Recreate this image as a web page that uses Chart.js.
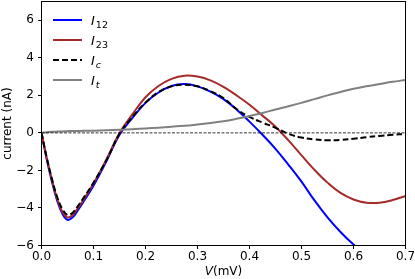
<!DOCTYPE html>
<html>
<head>
<meta charset="utf-8">
<script src="https://cdn.jsdelivr.net/npm/chart.js@4"></script>
<style>
html,body{margin:0;padding:0;background:#fff;}
#wrap{position:relative;width:415px;height:279px;}
</style>
</head>
<body>
<div id="wrap"><canvas id="c" width="415" height="279"></canvas></div>
<script>
// ---- data ----
const V = [0,0.01,0.02,0.03,0.04,0.05,0.06,0.07,0.08,0.1,0.125,0.15,0.175,0.2,0.225,0.25,0.275,0.3,0.325,0.35,0.375,0.4,0.425,0.45,0.475,0.5,0.525,0.55,0.575,0.6,0.625,0.65,0.675,0.7];
const I12 = [0,-1.4,-2.6,-3.6,-4.3,-4.63,-4.5,-4.12,-3.7,-2.82,-1.5,-0.1,0.8,1.6,2.15,2.5,2.6,2.48,2.2,1.8,1.25,0.6,-0.1,-0.85,-1.7,-2.6,-3.6,-4.5,-5.28,-5.95,-6.5,null,null,null];
const I23 = [0,-1.35,-2.5,-3.5,-4.2,-4.5,-4.38,-4.0,-3.6,-2.7,-1.4,0.0,1.0,1.9,2.5,2.88,3.05,3.0,2.8,2.45,2.0,1.5,0.92,0.33,-0.4,-1.2,-1.97,-2.65,-3.2,-3.55,-3.72,-3.72,-3.58,-3.36];
const Ic  = [0,-1.3,-2.45,-3.4,-4.05,-4.37,-4.25,-3.9,-3.5,-2.65,-1.45,-0.05,0.85,1.62,2.17,2.48,2.57,2.48,2.22,1.85,1.27,0.85,0.55,0.27,-0.05,-0.25,-0.35,-0.39,-0.37,-0.31,-0.23,-0.16,-0.1,-0.06];
const It  = [0,0.04,0.06,0.07,0.08,0.09,0.1,0.1,0.11,0.12,0.14,0.17,0.2,0.24,0.28,0.33,0.38,0.45,0.53,0.62,0.75,0.9,1.06,1.25,1.42,1.6,1.8,2.0,2.18,2.35,2.48,2.6,2.72,2.82];
const xTicks = [0,0.1,0.2,0.3,0.4,0.5,0.6,0.7];
const yTicks = [-6,-4,-2,0,2,4,6];
const legendItems = [
  {sub:'12', italicSub:false, color:'#0000ff', dash:[]},
  {sub:'23', italicSub:false, color:'#a52a2a', dash:[]},
  {sub:'c', italicSub:true, color:'#000000', dash:[6,3]},
  {sub:'t', italicSub:true, color:'#808080', dash:[]}
];

const pts = ys => V.map((v,i)=>({x:v,y:ys[i]})).filter(p=>p.y!==null);
const FONT = '"DejaVu Sans", sans-serif';
const fmtMinus = n => (n<0 ? '\u2212'+Math.abs(n) : String(n));

const decor = {
  id:'decor',
  afterDraw(chart){
    const ctx = chart.ctx, a = chart.chartArea;
    ctx.save();
    ctx.strokeStyle='#000'; ctx.lineWidth=1; ctx.setLineDash([]);
    ctx.strokeRect(a.left, a.top, a.right-a.left, a.bottom-a.top);
    let y0 = 20;
    legendItems.forEach((it,k)=>{
      const y = y0 + k*20;
      ctx.beginPath();
      ctx.strokeStyle=it.color; ctx.lineWidth=2; ctx.setLineDash(it.dash);
      ctx.moveTo(53,y); ctx.lineTo(82,y); ctx.stroke();
      ctx.setLineDash([]);
      ctx.fillStyle='#000';
      ctx.textBaseline='alphabetic'; ctx.textAlign='left';
      ctx.font='italic 13px '+FONT;
      ctx.fillText('I',91,y+5);
      const w = ctx.measureText('I').width;
      ctx.font=(it.italicSub?'italic ':'')+'9.5px '+FONT;
      ctx.fillText(it.sub,91+w+1,y+8);
    });
    ctx.font='italic 12px '+FONT;
    const wV = ctx.measureText('V').width;
    ctx.font='12px '+FONT;
    const wR = ctx.measureText('(mV)').width;
    const cx = (a.left+a.right)/2;
    const sx = cx-(wV+wR)/2;
    ctx.fillStyle='#000'; ctx.textAlign='left'; ctx.textBaseline='alphabetic';
    ctx.font='italic 12px '+FONT; ctx.fillText('V',sx,275);
    ctx.font='12px '+FONT; ctx.fillText('(mV)',sx+wV,275);
    ctx.translate(11,(a.top+a.bottom)/2);
    ctx.rotate(-Math.PI/2);
    ctx.textAlign='center'; ctx.textBaseline='alphabetic';
    ctx.fillText('current (nA)',0,0);
    ctx.restore();
  }
};

const lineOpts = {pointRadius:0, tension:0.4, cubicInterpolationMode:'default'};

new Chart(document.getElementById('c'),{
  type:'line',
  data:{datasets:[
    {data:[{x:0,y:0},{x:0.7,y:0}], borderColor:'#000', borderWidth:0.8, borderDash:[3,1.5], pointRadius:0, tension:0, order:0},
    Object.assign({data:pts(It), borderColor:'#808080', borderWidth:2, order:1}, lineOpts),
    Object.assign({data:pts(Ic), borderColor:'#000000', borderWidth:2, borderDash:[6,3], order:2}, lineOpts),
    Object.assign({data:pts(I23), borderColor:'#a52a2a', borderWidth:2, order:3}, lineOpts),
    Object.assign({data:pts(I12), borderColor:'#0000ff', borderWidth:2, order:4}, lineOpts)
  ]},
  options:{
    responsive:false, animation:false, events:[],
    layout:{padding:{left:0,top:1.5,right:9.5,bottom:0}},
    plugins:{legend:{display:false}, tooltip:{enabled:false}},
    scales:{
      x:{type:'linear', min:0, max:0.7,
        afterFit(s){s.height=33.5; s.paddingLeft=0; s.paddingRight=0;},
        afterBuildTicks(s){s.ticks=xTicks.map(v=>({value:v}));},
        ticks:{color:'#000', font:{family:FONT,size:12}, padding:1, maxRotation:0,
          callback:v=>v.toFixed(1)},
        grid:{drawOnChartArea:false, drawTicks:true, tickLength:3.5, color:'#000', tickWidth:1},
        border:{display:true, color:'#000', width:1}
      },
      y:{type:'linear', min:-6, max:7,
        afterFit(s){s.width=41.5; s.paddingTop=0; s.paddingBottom=0;},
        afterBuildTicks(s){s.ticks=yTicks.map(v=>({value:v}));},
        ticks:{color:'#000', font:{family:FONT,size:12}, padding:4,
          callback:v=>fmtMinus(v)},
        grid:{drawOnChartArea:false, drawTicks:true, tickLength:3.5, color:'#000', tickWidth:1},
        border:{display:true, color:'#000', width:1}
      }
    }
  },
  plugins:[decor]
});
</script>
</body>
</html>
